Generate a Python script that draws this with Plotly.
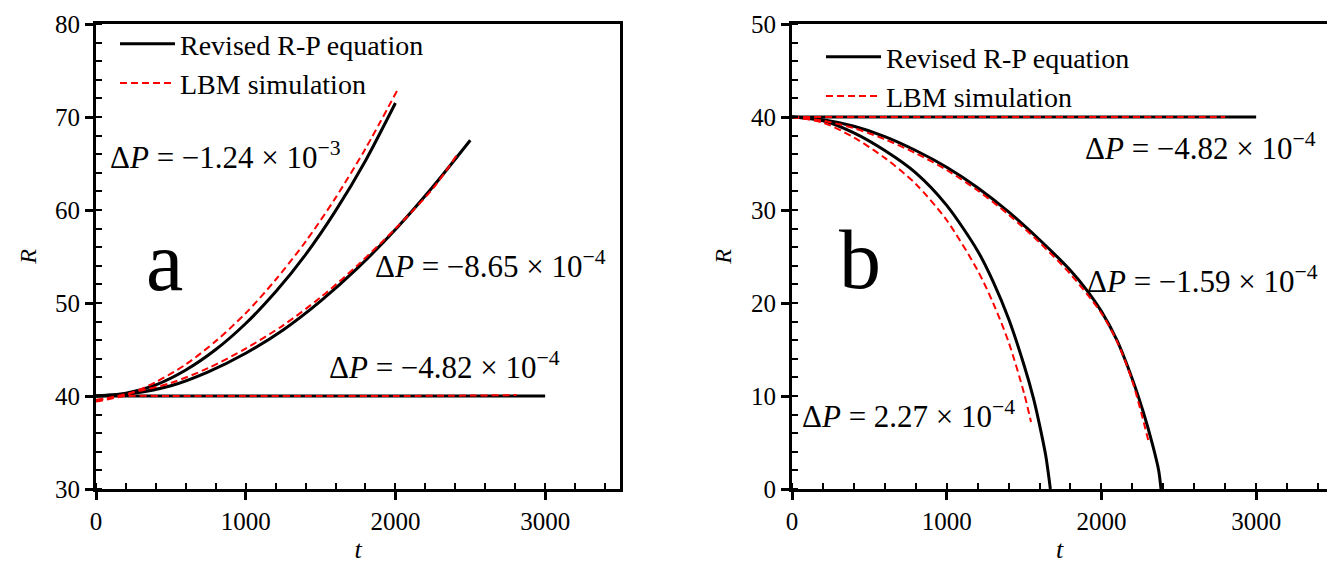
import plotly.graph_objects as go

# ---------------- Panel a data ----------------
a1_rp_t = [0, 200, 400, 600, 800, 1000, 1200, 1400, 1600, 1800, 2000]
a1_rp_R = [40.0, 40.3, 41.2, 42.8, 45.0, 47.8, 51.2, 55.2, 59.9, 65.3, 71.5]
a1_lbm_t = [0, 200, 400, 600, 800, 1000, 1200, 1400, 1600, 1800, 2010]
a1_lbm_R = [39.4, 40.1, 41.5, 43.4, 45.9, 48.9, 52.5, 56.6, 61.3, 66.6, 72.8]

a2_rp_t = [0, 250, 500, 750, 1000, 1250, 1500, 1750, 2000, 2250, 2500]
a2_rp_R = [40.0, 40.3, 41.1, 42.6, 44.6, 47.1, 50.2, 53.8, 57.9, 62.5, 67.5]
a2_lbm_t = [0, 250, 500, 750, 1000, 1250, 1500, 1750, 2000, 2250, 2410]
a2_lbm_R = [39.5, 40.4, 41.4, 43.0, 45.1, 47.6, 50.6, 54.1, 58.0, 62.3, 65.9]

a3_rp_t = [0, 500, 1000, 1500, 2000, 2500, 3000]
a3_rp_R = [40.0, 40.0, 40.0, 40.0, 40.0, 40.0, 40.0]
a3_lbm_t = [0, 100, 200, 500, 1000, 1500, 2000, 2500, 2810]
a3_lbm_R = [39.6, 39.8, 40.0, 40.0, 40.0, 40.0, 40.0, 40.05, 40.1]

# ---------------- Panel b data ----------------
b1_rp_t = [0, 500, 1000, 1500, 2000, 2500, 3000]
b1_rp_R = [40.0, 40.0, 40.0, 40.0, 40.0, 40.0, 40.0]
b1_lbm_t = [0, 500, 1000, 1500, 2000, 2500, 2800]
b1_lbm_R = [40.0, 40.0, 40.0, 40.0, 40.0, 40.0, 40.0]

b2_rp_t = [0, 200, 400, 600, 800, 1000, 1200, 1400, 1600, 1800, 1900, 2000, 2100, 2200, 2270, 2330, 2370, 2385]
b2_rp_R = [40.0, 39.7, 39.0, 37.9, 36.4, 34.6, 32.4, 29.8, 26.8, 23.5, 21.5, 19.1, 16.0, 11.8, 8.3, 4.8, 2.0, 0.0]
b2_lbm_t = [0, 200, 400, 600, 800, 1000, 1200, 1400, 1600, 1800, 2000, 2100, 2200, 2308]
b2_lbm_R = [40.0, 39.6, 38.8, 37.6, 36.1, 34.3, 32.1, 29.5, 26.5, 23.1, 18.9, 15.9, 11.6, 4.9]

b3_rp_t = [0, 200, 400, 600, 800, 1000, 1200, 1300, 1400, 1500, 1560, 1600, 1640, 1670]
b3_rp_R = [40.0, 39.6, 38.3, 36.4, 34.0, 30.5, 25.6, 22.3, 18.3, 13.3, 9.8, 6.9, 3.6, 0.0]
b3_lbm_t = [0, 200, 400, 600, 800, 1000, 1200, 1300, 1400, 1500, 1545]
b3_lbm_R = [40.0, 39.4, 37.8, 35.6, 32.8, 28.9, 23.5, 20.0, 15.8, 10.3, 7.2]

legend_names = ["Revised R-P equation", "LBM simulation"]
labels_a = ["Δ<i>P</i> = −1.24 × 10<sup>−3</sup>", "Δ<i>P</i> = −8.65 × 10<sup>−4</sup>", "Δ<i>P</i> = −4.82 × 10<sup>−4</sup>"]
labels_b = ["Δ<i>P</i> = −4.82 × 10<sup>−4</sup>", "Δ<i>P</i> = −1.59 × 10<sup>−4</sup>", "Δ<i>P</i> = 2.27 × 10<sup>−4</sup>"]

FONT = "Liberation Serif, Times New Roman, DejaVu Serif, serif"
W, H = 1327, 564
fig = go.Figure()

black = dict(color="black", width=3)
red = dict(color="#FF0000", width=2, dash="7px,4px")

panel_a = [(a1_rp_t, a1_rp_R, a1_lbm_t, a1_lbm_R), (a2_rp_t, a2_rp_R, a2_lbm_t, a2_lbm_R), (a3_rp_t, a3_rp_R, a3_lbm_t, a3_lbm_R)]
panel_b = [(b1_rp_t, b1_rp_R, b1_lbm_t, b1_lbm_R), (b2_rp_t, b2_rp_R, b2_lbm_t, b2_lbm_R), (b3_rp_t, b3_rp_R, b3_lbm_t, b3_lbm_R)]

for i, (tr, rr, tl, rl) in enumerate(panel_a):
    fig.add_trace(go.Scatter(x=tr, y=rr, mode="lines", line=dict(black, shape="spline", smoothing=0.8), name=legend_names[0],
                             showlegend=(i == 0), legend="legend", xaxis="x", yaxis="y"))
for i, (tr, rr, tl, rl) in enumerate(panel_a):
    fig.add_trace(go.Scatter(x=tl, y=rl, mode="lines", line=dict(red, shape="spline", smoothing=0.8), name=legend_names[1],
                             showlegend=(i == 0), legend="legend", xaxis="x", yaxis="y"))
for i, (tr, rr, tl, rl) in enumerate(panel_b):
    fig.add_trace(go.Scatter(x=tr, y=rr, mode="lines", line=dict(black, shape="spline", smoothing=0.8), name=legend_names[0],
                             showlegend=(i == 0), legend="legend2", xaxis="x2", yaxis="y2"))
for i, (tr, rr, tl, rl) in enumerate(panel_b):
    fig.add_trace(go.Scatter(x=tl, y=rl, mode="lines", line=dict(red, shape="spline", smoothing=0.8), name=legend_names[1],
                             showlegend=(i == 0), legend="legend2", xaxis="x2", yaxis="y2"))

def px(v):
    return v / W

def py(v):
    return 1 - v / H

axis_common = dict(showline=True, linecolor="black", linewidth=3, showgrid=False, zeroline=False,
                   ticks="outside", ticklen=8, tickwidth=2.5, tickcolor="black", automargin=False,
                   tickfont=dict(family=FONT, size=25, color="black"))

fig.update_layout(
    width=W, height=H, margin=dict(l=0, r=0, t=0, b=0, autoexpand=False),
    paper_bgcolor="white", plot_bgcolor="white",
    font=dict(family=FONT, color="black"),
    xaxis=dict(axis_common, domain=[px(96), px(620)], range=[0, 3500], dtick=1000, mirror=True,
               minor=dict(ticks="inside", dtick=200, ticklen=6, tickwidth=2, tickcolor="black"),
               title=dict(text="<i>t</i>", font=dict(family=FONT, size=26), standoff=12), anchor="y"),
    yaxis=dict(axis_common, domain=[py(489), py(24)], range=[30, 80], dtick=10, mirror=True,
               minor=dict(ticks="inside", dtick=2, ticklen=6, tickwidth=2, tickcolor="black"),
               title=dict(text="<i>R</i>", font=dict(family=FONT, size=24), standoff=12), anchor="x"),
    xaxis2=dict(axis_common, domain=[px(792), 1.0], range=[0, 3458], dtick=1000, mirror=True,
                minor=dict(ticks="inside", dtick=200, ticklen=6, tickwidth=2, tickcolor="black"),
                title=dict(text="<i>t</i>", font=dict(family=FONT, size=26), standoff=12), anchor="y2"),
    yaxis2=dict(axis_common, domain=[py(489), py(24)], range=[0, 50], dtick=10, mirror=False,
                minor=dict(ticks="inside", dtick=2, ticklen=6, tickwidth=2, tickcolor="black"),
                title=dict(text="<i>R</i>", font=dict(family=FONT, size=24), standoff=13), anchor="x2"),
    legend=dict(x=px(115), y=py(19), xanchor="left", yanchor="top", bgcolor="rgba(0,0,0,0)",
                font=dict(family=FONT, size=28, color="black"), tracegroupgap=0, itemwidth=55),
    legend2=dict(x=px(821), y=py(32), xanchor="left", yanchor="top", bgcolor="rgba(0,0,0,0)",
                 font=dict(family=FONT, size=28, color="black"), tracegroupgap=0, itemwidth=55),
)

ann_font = dict(family=FONT, size=31, color="black")
pos_a = [(80, 65.9), (1850, 54.1), (1543, 43.3)]
pos_b = [(1881, 36.8), (1894, 22.5), (52, 8.0)]
for txt, (x, y) in zip(labels_a, pos_a):
    fig.add_annotation(x=x, y=y, xref="x", yref="y", text=txt, showarrow=False,
                       xanchor="left", yanchor="middle", font=ann_font)
for txt, (x, y) in zip(labels_b, pos_b):
    fig.add_annotation(x=x, y=y, xref="x2", yref="y2", text=txt, showarrow=False,
                       xanchor="left", yanchor="middle", font=ann_font)
fig.add_annotation(x=455, y=54.5, xref="x", yref="y", text="a", showarrow=False,
                   font=dict(family=FONT, size=84, color="black"))
fig.add_annotation(x=440, y=24.7, xref="x2", yref="y2", text="b", showarrow=False,
                   font=dict(family=FONT, size=84, color="black"))

fig.write_html("out.html", config={"displayModeBar": False},
               post_script="document.body.style.margin='0px';")
